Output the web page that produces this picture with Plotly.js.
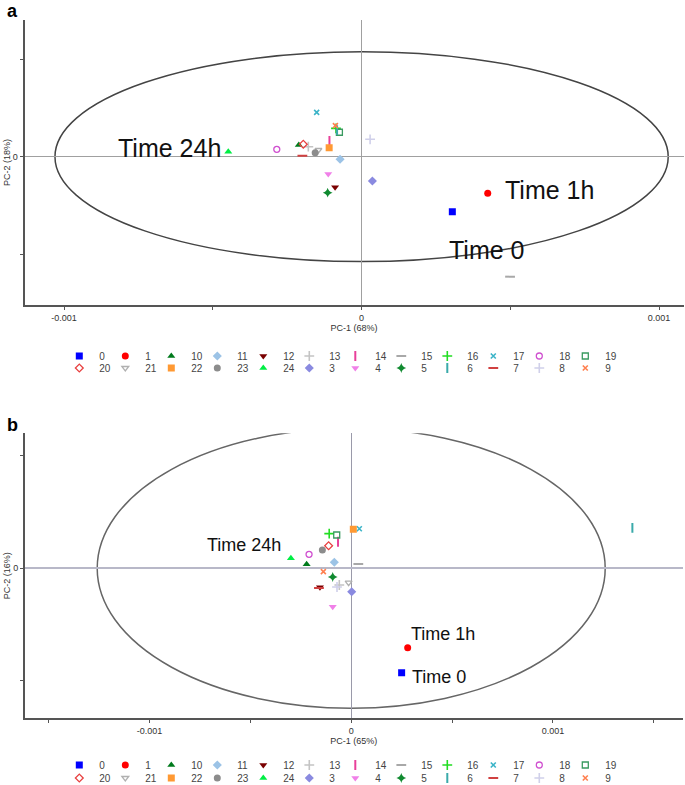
<!DOCTYPE html>
<html><head><meta charset="utf-8">
<script src="https://cdn.plot.ly/plotly-3.0.1.min.js"></script>
<style>html,body{margin:0;padding:0;background:#fff}#chart{width:685px;height:785px}</style>
</head><body><div id="chart"></div>
<script>
// Sample groups (legend order as in the figure)
const groups = ['0','1','10','11','12','13','14','15','16','17','18','19','20','21','22','23','24','3','4','5','6','7','8','9'];
// Panel a scores: PC-1 (68%), PC-2 (18%)
const aX = [0.000305,0.000424,-0.000211,-0.0000723,-0.0000891,-0.000179,-0.000108,0.000499,-0.000086,-0.000151,-0.000285,-0.0000746,-0.000196,-0.000145,-0.000109,-0.000156,-0.000448,0.0000363,-0.000112,-0.000114,-0.0000824,-0.000199,0.0000286,-0.000088];
const aY = [-0.000282,-0.000187,0.000060,-0.0000133,-0.000157,0.0000512,0.0000804,-0.000614,0.000145,0.000227,0.0000379,0.000125,0.0000635,0.0000343,0.0000461,0.0000205,0.0000256,-0.000124,-0.0000885,-0.000184,0.000136,0.0000051,0.000089,0.000159];
// Panel b scores: PC-1 (65%), PC-2 (16%)
const bX = [0.00025,0.00028,-0.000221,-0.0000838,-0.000155,-0.000059,-0.0000654,0.0000352,-0.000109,0.0000402,-0.000209,-0.0000719,-0.000112,-0.0000129,0.0000104,-0.000143,-0.000299,0.0000025,-0.0000917,-0.0000917,0.001394,-0.00016,-0.0000704,-0.000138];
const bY = [-0.000464,-0.000353,0.0000178,0.0000267,-0.0000844,-0.0000742,0.000118,0.0000191,0.000154,0.000176,0.0000622,0.000148,0.0001,-0.000064,0.000173,0.0000813,0.0000444,-0.000104,-0.000171,-0.0000387,0.00018,-0.0000876,-0.0000831,-0.0000151];
// Hotelling T2 ellipse half-axes [PC-1, PC-2]
const ellipseA = [0.0010306, 0.000537];
const ellipseB = [0.0012593, 0.000622];
// Time labels
const timeLabels = ['Time 24h','Time 1h','Time 0'];
const aLabelX = [-0.000645, 0.00063, 0.00042];
const aLabelY = [0.000046, -0.000170, -0.000478];
const bLabelX = [-0.00053, 0.000455, 0.000436];
const bLabelY = [0.000103, -0.000290, -0.000481];
// Tick labels
const aXTicks = [-0.001,-0.0005,0,0.0005,0.001];
const aXText = ['-0.001','','0','','0.001'];
const bXTicks = [-0.0015,-0.001,-0.0005,0,0.0005,0.001,0.0015];
const bXText = ['','-0.001','','0','','0.001',''];
const yTicks = [-0.0005,0,0.0005];
const yText = ['','0',''];

// Styles
const symbols = ['square','circle','triangle-up','diamond','triangle-down','cross-thin-open','line-ns-open','line-ew-open','cross-thin-open','x-thin-open','circle-open','square-open','diamond-open','triangle-down-open','square','circle','triangle-up','diamond','triangle-down','star-diamond','line-ns-open','line-ew-open','cross-thin-open','x-thin-open'];
const colors = ['#0000ff','#ff0000','#007a1c','#9cc3e6','#7a0000','#c4c4c4','#e8409a','#a8a8a8','#22dd22','#3cb4c8','#d050d0','#3a9a60','#e84040','#b0b0b0','#ff9933','#8c8c8c','#00ee44','#8a8ae0','#f080e8','#108a30','#3aaaaa','#d04040','#d0d0ea','#ff8050'];

const W = 685, H = 785;
function markerFor(i) {
  const s = symbols[i];
  let size = 7, lw = 0;
  if (s.indexOf('line-') === 0) { size = 7; lw = 2; }
  else if (s.indexOf('thin') >= 0) { size = s.indexOf('x-') === 0 ? 5 : 7; lw = 1.6; }
  else if (s.indexOf('open') >= 0) { size = 6; lw = 1.3; }
  return {symbol: s, color: colors[i], size: size, line: {color: colors[i], width: lw}};
}
const traces = [];
[['x','y',aX,aY,'legend','legend2'], ['x2','y2',bX,bY,'legend3','legend4']].forEach(p => {
  groups.forEach((g, i) => {
    const t = {type:'scatter', mode:'markers', name:g, x:[p[2][i]], y:[p[3][i]], xaxis:p[0], yaxis:p[1],
               legend: i < 12 ? p[4] : p[5], marker: markerFor(i), hoverinfo:'name'};
    if (i === 11 || i === 23) t.legendwidth = 20;
    traces.push(t);
  });
});

const FONT = 'Liberation Sans, Arial, sans-serif';
function leg(topPx) {
  return {orientation:'h', x:59.3/W, xanchor:'left', y:(H-topPx)/H, yanchor:'top',
          entrywidth:1, entrywidthmode:'pixels', font:{size:10, color:'#444', family:FONT},
          bgcolor:'rgba(0,0,0,0)', borderwidth:0, tracegroupgap:0};
}
function xax(domain, range, tv, tt, title, anchor) {
  return {domain:domain, range:range, anchor:anchor, showgrid:false, zeroline:true,
          zerolinecolor:'#a0a0a0', zerolinewidth:1.3, showline:true, linecolor:'#555', linewidth:2,
          ticks:'outside', ticklen:3, tickcolor:'#555', tickmode:'array', tickvals:tv, ticktext:tt,
          tickfont:{size:9, color:'#333', family:FONT},
          title:{text:title, font:{size:9, color:'#333', family:FONT}, standoff:2}, automargin:false};
}
function yax(domain, range, title, anchor) {
  return {domain:domain, range:range, anchor:anchor, showgrid:false, zeroline:true,
          zerolinecolor:'#a0a0a0', zerolinewidth:1.3, showline:true, linecolor:'#555', linewidth:2,
          ticks:'outside', ticklen:3, tickcolor:'#555', tickmode:'array', tickvals:yTicks, ticktext:yText,
          tickfont:{size:9, color:'#333', family:FONT},
          title:{text:title, font:{size:9, color:'#333', family:FONT}, standoff:1}, automargin:false};
}

const annotations = [];
timeLabels.forEach((t, i) => {
  annotations.push({xref:'x', yref:'y', x:aLabelX[i], y:aLabelY[i], text:t, showarrow:false,
    xanchor:'center', yanchor:'middle', font:{size:25, color:'#111', family:FONT}});
  annotations.push({xref:'x2', yref:'y2', x:bLabelX[i], y:bLabelY[i], text:t, showarrow:false,
    xanchor:'center', yanchor:'middle', font:{size:18, color:'#111', family:FONT}});
});
annotations.push({xref:'paper', yref:'paper', x:12/W, y:1, text:'<b>a</b>', showarrow:false,
  xanchor:'center', yanchor:'top', borderpad:0, font:{size:18, color:'#000', family:FONT}});
annotations.push({xref:'paper', yref:'paper', x:12/W, y:(H-425)/H, text:'<b>b</b>', showarrow:false,
  xanchor:'center', yanchor:'middle', font:{size:18, color:'#000', family:FONT}});

const layout = {
  width:W, height:H, margin:{l:0, r:0, t:0, b:0, autoexpand:false},
  paper_bgcolor:'#fff', plot_bgcolor:'#fff', font:{family:FONT},
  xaxis: xax([24.5/W, 683.5/W], [-0.001133, 0.001082], aXTicks, aXText, 'PC-1 (68%)', 'y'),
  yaxis: yax([(H-305)/H, (H-20)/H], [-0.000759, 0.0006996], 'PC-2 (18%)', 'x'),
  xaxis2: xax([25/W, 682.5/W], [-0.0016173, 0.0016425], bXTicks, bXText, 'PC-1 (65%)', 'y2'),
  yaxis2: yax([(H-718.3)/H, (H-433.3)/H], [-0.0006667, 0.0006], 'PC-2 (16%)', 'x2'),
  legend: leg(341.5), legend2: leg(353.5), legend3: leg(750.5), legend4: leg(763.5),
  shapes: [
    {type:'circle', xref:'x', yref:'y', x0:-ellipseA[0], x1:ellipseA[0], y0:-ellipseA[1], y1:ellipseA[1],
     line:{color:'#444', width:1.5}, layer:'below'},
    {type:'circle', xref:'x2', yref:'y2', x0:-ellipseB[0], x1:ellipseB[0], y0:-ellipseB[1], y1:ellipseB[1],
     line:{color:'#666', width:1.5}, layer:'below'}
  ],
  annotations: annotations
};
layout.yaxis2.zerolinecolor = '#b8b8c8';
layout.yaxis2.zerolinewidth = 2;
layout.xaxis2.zerolinecolor = '#9a9aaa';
layout.xaxis2.zerolinewidth = 1;

Plotly.newPlot('chart', traces, layout, {displayModeBar:false, staticPlot:true});
</script>
</body></html>
